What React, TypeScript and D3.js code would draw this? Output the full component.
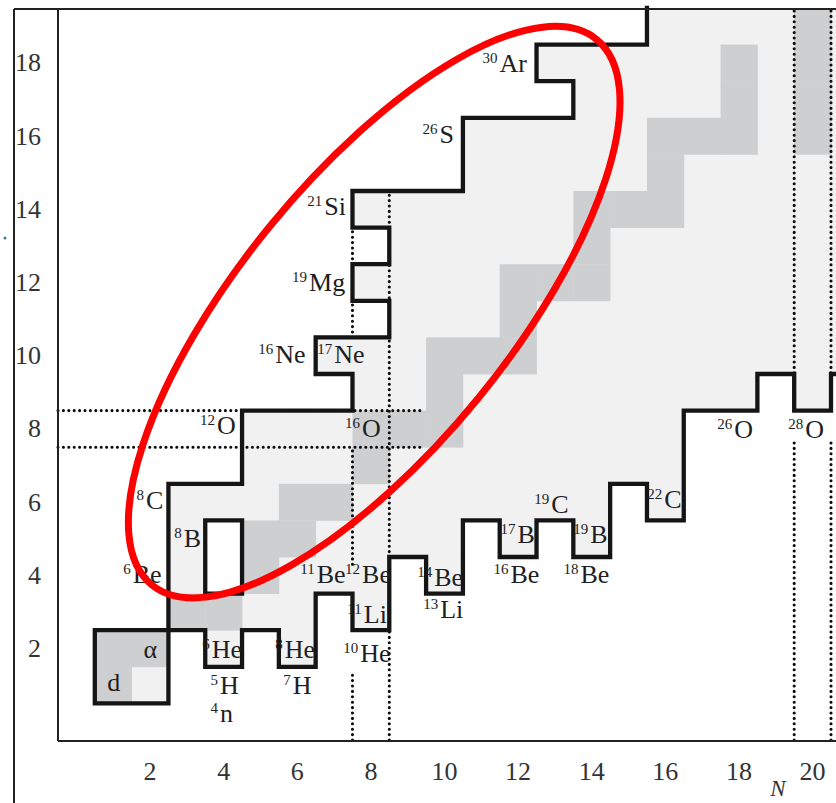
import * as d3 from "d3";

const W = 836;
const H = 803;

// bound nuclei drawn light grey: [Z, N from, N to]
const boundRuns = [
  [1, 1, 2], [2, 1, 2], [2, 4, 4], [2, 6, 6],
  [3, 3, 6], [3, 8, 8],
  [4, 3, 3], [4, 5, 8], [4, 10, 10],
  [5, 3, 3], [5, 5, 10], [5, 12, 12], [5, 14, 14],
  [6, 3, 14], [6, 16, 16],
  [7, 5, 16], [8, 5, 16],
  [9, 8, 18], [9, 20, 20],
  [10, 7, 21], [11, 9, 21], [12, 8, 21], [13, 9, 21], [14, 8, 21],
  [15, 11, 21], [16, 11, 21], [17, 14, 21], [18, 13, 21], [19, 16, 21],
];

// stable nuclei drawn dark grey: [N, Z]
const stableCells = [
  [1, 1], [1, 2], [2, 2], [3, 3], [4, 3], [5, 4], [5, 5], [6, 5], [6, 6], [7, 6],
  [8, 7], [8, 8], [9, 8], [10, 8], [10, 9], [10, 10], [11, 10], [12, 10], [12, 11],
  [12, 12], [13, 12], [14, 12], [14, 13], [14, 14], [15, 14], [16, 14], [16, 15],
  [16, 16], [17, 16], [18, 16], [18, 17], [18, 18], [20, 16], [20, 17], [20, 18], [20, 19],
];

// drip lines, vertices as [N, Z]
const protonDrip = [
  [2.5, 2.5], [2.5, 6.5], [4.5, 6.5], [4.5, 8.5], [7.5, 8.5], [7.5, 9.5], [6.5, 9.5],
  [6.5, 10.5], [8.5, 10.5], [8.5, 11.5], [7.5, 11.5], [7.5, 12.5], [8.5, 12.5],
  [8.5, 13.5], [7.5, 13.5], [7.5, 14.5], [10.5, 14.5], [10.5, 16.5], [13.5, 16.5],
  [13.5, 17.5], [12.5, 17.5], [12.5, 18.5], [15.5, 18.5], [15.5, 19.5],
];
const neutronDrip = [
  [2.5, 2.5], [3.5, 2.5], [3.5, 1.5], [4.5, 1.5], [4.5, 2.5], [5.5, 2.5], [5.5, 1.5],
  [6.5, 1.5], [6.5, 3.5], [7.5, 3.5], [7.5, 2.5], [8.5, 2.5], [8.5, 4.5], [9.5, 4.5],
  [9.5, 3.5], [10.5, 3.5], [10.5, 5.5], [11.5, 5.5], [11.5, 4.5], [12.5, 4.5],
  [12.5, 5.5], [13.5, 5.5], [13.5, 4.5], [14.5, 4.5], [14.5, 6.5], [15.5, 6.5],
  [15.5, 5.5], [16.5, 5.5], [16.5, 8.5], [18.5, 8.5], [18.5, 9.5], [19.5, 9.5],
  [19.5, 8.5], [20.5, 8.5], [20.5, 9.5], [21.5, 9.5],
];
const lightBox = [[0.5, 0.5], [0.5, 2.5], [2.5, 2.5], [2.5, 0.5]];
const holeBox = [[3.5, 3.5], [3.5, 5.5], [4.5, 5.5], [4.5, 3.5]];

// magic-number dotted lines
const dottedV = [
  [7.5, -0.5, 1.3], [7.5, 4.3, 7.5], [7.5, 10.5, 11.5], [7.5, 12.5, 13.5],
  [8.5, -0.5, 2.5], [8.5, 4.5, 14.5],
  [19.5, -0.5, 7.65], [19.5, 8.5, 19.5],
  [20.5, -0.5, 7.65], [20.5, 8.5, 19.5],
];
const dottedH = [[7.5, -0.5, 9.45], [8.5, -0.5, 9.45]];

// labels: mass number, symbol, anchor (N, Z) at left/baseline
const labels = [
  ["30", "Ar", 11.03, 17.74], ["26", "S", 9.4, 15.8], ["21", "Si", 6.27, 13.84],
  ["19", "Mg", 5.86, 11.78], ["16", "Ne", 4.94, 9.79], ["17", "Ne", 6.54, 9.79],
  ["12", "O", 3.36, 7.85], ["16", "O", 7.3, 7.77], ["8", "C", 1.63, 5.8],
  ["8", "B", 2.66, 4.76], ["6", "Be", 1.27, 3.78], ["11", "Be", 6.08, 3.78],
  ["12", "Be", 7.3, 3.78], ["11", "Li", 7.36, 2.71], ["", "α", 1.82, 1.75],
  ["", "d", 0.84, 0.85], ["6", "He", 3.42, 1.75], ["8", "He", 5.4, 1.75],
  ["5", "H", 3.64, 0.77], ["7", "H", 5.62, 0.77], ["4", "n", 3.64, -0.02],
  ["10", "He", 7.25, 1.62], ["14", "Be", 9.26, 3.72], ["13", "Li", 9.42, 2.82],
  ["17", "B", 11.52, 4.87], ["16", "Be", 11.33, 3.8], ["19", "C", 12.44, 5.69],
  ["19", "B", 13.5, 4.87], ["18", "Be", 13.23, 3.8], ["22", "C", 15.51, 5.83],
  ["26", "O", 17.41, 7.74], ["28", "O", 19.34, 7.74],
];

const nTicks = [2, 4, 6, 8, 10, 12, 14, 16, 18, 20];
const zTicks = [2, 4, 6, 8, 10, 12, 14, 16, 18];

// highlight ellipse in data units
const ellipse = { n: 8.09, z: 11.19, rn: 9.56, rz: 3.67, angle: -50.8 };

const FONT = '"Liberation Serif", "Times New Roman", "DejaVu Serif", serif';

export default function App() {
  const x = d3.scaleLinear().domain([-0.5, 20.5]).range([58, 831]);
  const y = d3.scaleLinear().domain([-0.5, 19.5]).range([740, 8]);
  const line = d3.line<number[]>().x((d) => x(d[0])).y((d) => y(d[1]));
  const closed = (pts: number[][]) => line(pts) + "Z";

  const cx = x(ellipse.n);
  const cy = y(ellipse.z);
  const rx = x(ellipse.n + ellipse.rn) - cx;
  const ry = x(ellipse.n + ellipse.rz) - cx;

  return (
    <svg
      width={W}
      height={H}
      style={{ position: "absolute", left: 0, top: 0, display: "block", background: "#fff", fontFamily: FONT }}
    >
      {/* bound nuclei */}
      {boundRuns.map(([z, n0, n1], i) => (
        <rect
          key={"b" + i}
          x={x(n0 - 0.5)}
          y={y(z + 0.5)}
          width={x(n1 + 0.5) - x(n0 - 0.5)}
          height={y(z - 0.5) - y(z + 0.5) + 0.4}
          fill="#f1f1f1"
        />
      ))}
      {/* stable nuclei */}
      {stableCells.map(([n, z], i) => (
        <rect
          key={"s" + i}
          x={x(n - 0.5)}
          y={y(z + 0.5)}
          width={x(n + 0.5) - x(n - 0.5) + 0.4}
          height={y(z - 0.5) - y(z + 0.5) + 0.4}
          fill="#cecfd1"
        />
      ))}

      {/* magic numbers */}
      <g stroke="#0c0c0c" strokeWidth={3.1} strokeLinecap="round" strokeDasharray="0 5.4" fill="none">
        {dottedV.map(([n, z0, z1], i) => (
          <line key={"v" + i} x1={x(n)} x2={x(n)} y1={y(z0)} y2={y(z1)} />
        ))}
        {dottedH.map(([z, n0, n1], i) => (
          <line key={"h" + i} x1={x(n0)} x2={x(n1)} y1={y(z)} y2={y(z)} />
        ))}
      </g>

      {/* drip lines */}
      <g stroke="#151515" strokeWidth={4.3} fill="none" strokeLinejoin="miter" strokeLinecap="square">
        <path d={line(protonDrip)!} />
        <path d={line(neutronDrip)!} />
        <path d={closed(lightBox)} />
        <path d={closed(holeBox)} />
      </g>

      {/* nuclide labels */}
      <g fill="#1e1e24">
        {labels.map(([sup, sym, n, z], i) => (
          <text key={"l" + i} x={x(n as number)} y={y(z as number)} fontSize={26}>
            {sup ? (
              <>
                <tspan fontSize={15} dy={-9}>{sup}</tspan>
                <tspan dx={2} dy={9}>{sym}</tspan>
              </>
            ) : (
              sym
            )}
          </text>
        ))}
      </g>

      {/* frame */}
      <g stroke="#222" strokeWidth={2} fill="none">
        <line x1={x(-0.5)} x2={x(-0.5)} y1={9} y2={y(-0.5) + 1} />
        <line x1={x(-0.5)} x2={W} y1={y(-0.5) + 1} y2={y(-0.5) + 1} />
        <line x1={14} x2={14} y1={9} y2={H} />
        <line x1={14} x2={W} y1={9} y2={9} />
      </g>
      <circle cx={5} cy={238} r={1.5} fill="#3a7a9a" />

      {/* tick labels */}
      <g fill="#333" fontSize={26}>
        {nTicks.map((n) => (
          <text key={"nt" + n} x={x(n)} y={780} textAnchor="middle">
            {n}
          </text>
        ))}
        {zTicks.map((z) => (
          <text key={"zt" + z} x={41} y={y(z)} textAnchor="end" dominantBaseline="central">
            {z}
          </text>
        ))}
        <text x={778} y={796} textAnchor="middle" fontStyle="italic" fontSize={23}>
          N
        </text>
      </g>

      {/* highlighted region */}
      <ellipse
        cx={cx}
        cy={cy}
        rx={rx}
        ry={ry}
        transform={`rotate(${ellipse.angle} ${cx} ${cy})`}
        fill="none"
        stroke="#ff0000"
        strokeWidth={7}
      />
    </svg>
  );
}
